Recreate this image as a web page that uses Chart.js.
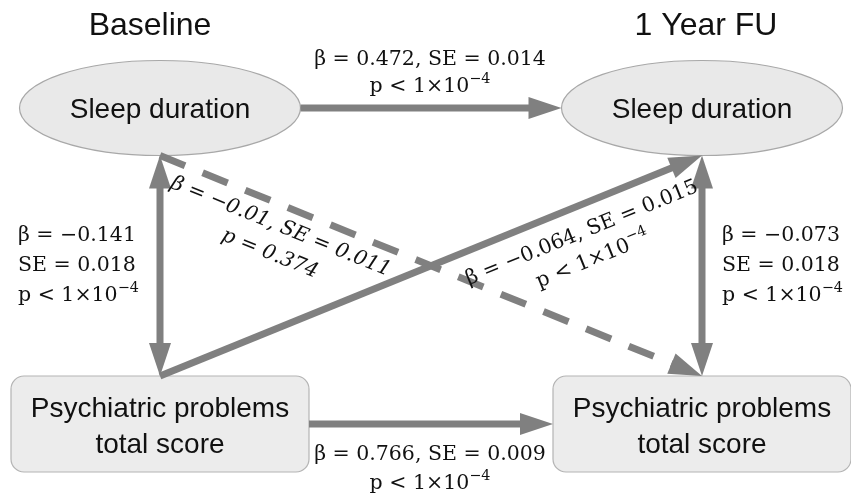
<!DOCTYPE html>
<html>
<head>
<meta charset="utf-8">
<script src="https://cdn.jsdelivr.net/npm/chart.js@4"></script>
<style>
  html, body { margin: 0; padding: 0; background: #ffffff; }
  #wrap { width: 851px; height: 499px; }
</style>
</head>
<body>
<div id="wrap"><canvas id="c" width="851" height="499"></canvas></div>
<script>
// ---- model data -------------------------------------------------------
const timepoints = ['Baseline', '1 Year FU'];                     // columns
const measures = ['Sleep duration', 'Psychiatric problems\ntotal score']; // rows
const measureShape = ['ellipse', 'box'];

// paths as [column, row] of the source and target node
const edgeFrom = [[0, 0], [0, 1], [0, 0], [1, 0], [0, 1], [0, 0]];
const edgeTo   = [[1, 0], [1, 1], [0, 1], [1, 1], [1, 0], [1, 1]];
const edgeTwoWay = [false, false, true, true, false, false];
const edgeBeta = [0.472, 0.766, -0.141, -0.073, -0.064, -0.01];
const edgeSE   = [0.014, 0.009, 0.018, 0.018, 0.015, 0.011];
const edgeP    = ['< 1×10^−4', '< 1×10^−4', '< 1×10^−4', '< 1×10^−4', '< 1×10^−4', '= 0.374'];
const edgeSignificant = [true, true, true, true, true, false];

// ---- drawing helpers --------------------------------------------------
const ARROW = '#808080';
const SERIF = '"DejaVu Serif", "Liberation Serif", serif';
const SANS = '"Liberation Sans", Arial, sans-serif';

const fmt = v => String(v).replace('-', '−');

function parseRich(str) {
  const i = str.indexOf('^');
  if (i < 0) return [{ t: str, sup: false }];
  return [{ t: str.slice(0, i), sup: false }, { t: str.slice(i + 1), sup: true }];
}

function richWidth(ctx, segs, size, style) {
  let w = 0;
  for (const s of segs) {
    ctx.font = `${style} ${s.sup ? size * 0.7 : size}px ${SERIF}`;
    w += ctx.measureText(s.t).width;
  }
  return w;
}

function drawRich(ctx, str, x, y, align, size, style) {
  const segs = parseRich(str);
  const w = richWidth(ctx, segs, size, style);
  let cx = align === 'center' ? x - w / 2 : x;
  ctx.textAlign = 'left';
  ctx.textBaseline = 'alphabetic';
  for (const s of segs) {
    const fs = s.sup ? size * 0.7 : size;
    ctx.font = `${style} ${fs}px ${SERIF}`;
    ctx.fillText(s.t, cx, s.sup ? y - size * 0.45 : y);
    cx += ctx.measureText(s.t).width;
  }
}

// node half sizes in pixels
const ELL = { rx: 140.5, ry: 47.5 };
const BOX = { hw: 149, hh: 48, r: 13 };

function nodeHalf(row) {
  return measureShape[row] === 'ellipse' ? { w: ELL.rx, h: ELL.ry } : { w: BOX.hw, h: BOX.hh };
}

const pathDiagram = {
  id: 'pathDiagram',
  afterDraw(chart) {
    const ctx = chart.ctx;
    const xs = chart.scales.x, ys = chart.scales.y;
    const px = c => xs.getPixelForValue(c);
    const py = r => ys.getPixelForValue(r);

    ctx.save();

    // column headings
    const headShift = [-10, 4];
    ctx.fillStyle = '#111';
    ctx.font = `32px ${SANS}`;
    ctx.textAlign = 'center';
    ctx.textBaseline = 'alphabetic';
    timepoints.forEach((t, c) => ctx.fillText(t, px(c) + headShift[c], 35));

    // nodes
    for (let c = 0; c < timepoints.length; c++) {
      for (let r = 0; r < measures.length; r++) {
        const x = px(c), y = py(r);
        ctx.lineWidth = 1.2;
        if (measureShape[r] === 'ellipse') {
          ctx.beginPath();
          ctx.ellipse(x, y, ELL.rx, ELL.ry, 0, 0, Math.PI * 2);
          ctx.fillStyle = '#e9e9e9';
          ctx.strokeStyle = '#a8a8a8';
          ctx.fill(); ctx.stroke();
        } else {
          ctx.beginPath();
          ctx.roundRect(x - BOX.hw, y - BOX.hh, BOX.hw * 2, BOX.hh * 2, BOX.r);
          ctx.fillStyle = '#ececec';
          ctx.strokeStyle = '#b4b4b4';
          ctx.fill(); ctx.stroke();
        }
        const lines = measures[r].split('\n');
        ctx.fillStyle = '#111';
        ctx.font = `28px ${SANS}`;
        ctx.textAlign = 'center';
        ctx.textBaseline = 'alphabetic';
        if (lines.length === 1) {
          ctx.fillText(lines[0], x, y + 10);
        } else {
          ctx.fillText(lines[0], x, y - 7);
          ctx.fillText(lines[1], x, y + 29);
        }
      }
    }

    // edges
    const HEAD_L = 33, HEAD_W = 11;
    const anchor = (from, to) => {
      const [c, r] = from, [c2, r2] = to;
      const h = nodeHalf(r);
      if (r === r2) return [px(c) + Math.sign(c2 - c) * h.w, py(r)];
      return [px(c), py(r) + Math.sign(py(r2) - py(r)) * h.h];
    };
    const head = (tip, ux, uy) => {
      const bx = tip[0] - ux * HEAD_L, by = tip[1] - uy * HEAD_L;
      ctx.beginPath();
      ctx.moveTo(tip[0], tip[1]);
      ctx.lineTo(bx - uy * HEAD_W, by + ux * HEAD_W);
      ctx.lineTo(bx + uy * HEAD_W, by - ux * HEAD_W);
      ctx.closePath();
      ctx.fill();
    };

    const geom = [];
    edgeFrom.forEach((from, i) => {
      const a = anchor(from, edgeTo[i]);
      const b = anchor(edgeTo[i], from);
      const dx = b[0] - a[0], dy = b[1] - a[1];
      const len = Math.hypot(dx, dy);
      const ux = dx / len, uy = dy / len;
      geom.push({ a, b, ux, uy, len });

      const trim = HEAD_L - 2;
      const s = edgeTwoWay[i] ? [a[0] + ux * trim, a[1] + uy * trim] : a;
      const e = [b[0] - ux * trim, b[1] - uy * trim];
      ctx.strokeStyle = ARROW;
      ctx.fillStyle = ARROW;
      ctx.lineWidth = 7;
      ctx.lineCap = 'butt';
      ctx.setLineDash(edgeSignificant[i] ? [] : [27, 19]);
      ctx.beginPath();
      ctx.moveTo(s[0], s[1]);
      ctx.lineTo(e[0], e[1]);
      ctx.stroke();
      ctx.setLineDash([]);
      head(b, ux, uy);
      if (edgeTwoWay[i]) head(a, -ux, -uy);
    });

    // edge labels
    const SIZE = 20.5;
    ctx.fillStyle = '#111';
    edgeFrom.forEach((from, i) => {
      const g = geom[i];
      const betaSE = `β = ${fmt(edgeBeta[i])}, SE = ${fmt(edgeSE[i])}`;
      const pLine = `p ${edgeP[i]}`;
      const horizontal = Math.abs(g.uy) < 1e-6;
      const vertical = Math.abs(g.ux) < 1e-6;
      const mx = (g.a[0] + g.b[0]) / 2, my = (g.a[1] + g.b[1]) / 2;
      const style = edgeSignificant[i] ? 'normal' : 'italic';

      if (horizontal) {
        const above = from[1] === 0;
        const offs = above ? [-43, -16] : [36, 65];
        drawRich(ctx, betaSE, mx - 1, my + offs[0], 'center', SIZE, style);
        drawRich(ctx, pLine, mx - 1, my + offs[1], 'center', SIZE, style);
      } else if (vertical) {
        const left = from[0] === 0;
        const x = left ? mx - 142 : mx + 20;
        const lines = [`β = ${fmt(edgeBeta[i])}`, `SE = ${fmt(edgeSE[i])}`, pLine];
        lines.forEach((l, k) => drawRich(ctx, l, x, my - 24.5 + k * 30, 'left', SIZE, style));
      } else {
        const rising = g.uy < 0;
        const t = rising ? 0.76 : 0.237;
        const off = rising ? 32 : 26;
        const cx = g.a[0] + g.ux * g.len * t, cy = g.a[1] + g.uy * g.len * t;
        ctx.save();
        ctx.translate(cx, cy);
        ctx.rotate(Math.atan2(g.uy, g.ux));
        drawRich(ctx, betaSE, 0, off, 'center', SIZE, style);
        drawRich(ctx, pLine, 0, off + 29, 'center', SIZE, style);
        ctx.restore();
      }
    });

    ctx.restore();
  }
};

// node positions on a column/row grid
const nodePoints = [];
timepoints.forEach((t, c) => measures.forEach((m, r) => nodePoints.push({ x: c, y: r })));

new Chart(document.getElementById('c'), {
  type: 'scatter',
  data: {
    datasets: [{
      label: 'nodes',
      data: nodePoints,
      pointRadius: 0,
      pointHoverRadius: 0
    }]
  },
  options: {
    responsive: false,
    animation: false,
    events: [],
    layout: { padding: 0 },
    plugins: { legend: { display: false }, tooltip: { enabled: false } },
    scales: {
      x: { type: 'linear', display: false, min: -160 / 542, max: 691 / 542 },
      y: { type: 'linear', display: false, reverse: true, min: -108 / 316, max: 391 / 316 }
    }
  },
  plugins: [pathDiagram]
});
</script>
</body>
</html>
